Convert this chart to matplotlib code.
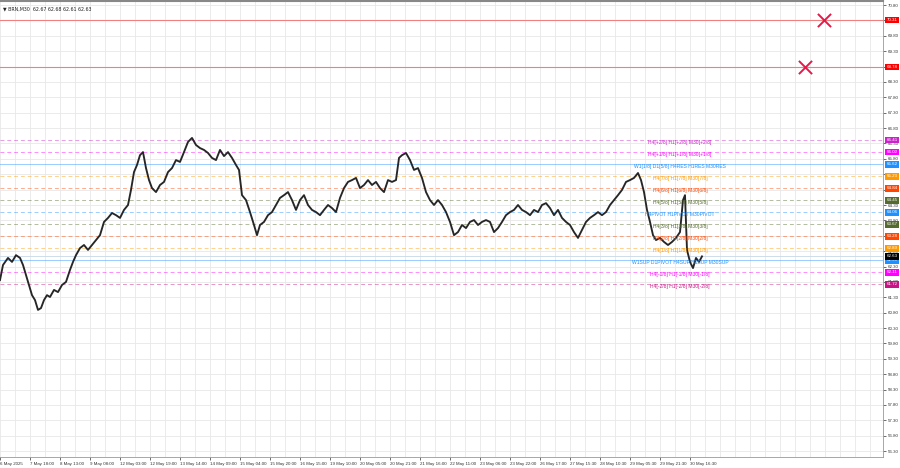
import matplotlib
matplotlib.use('Agg')
import matplotlib.pyplot as plt
from matplotlib.transforms import blended_transform_factory

TITLE = '\u25bc BRN,M30  62.67 62.68 62.61 62.63'

# bar position (chart x) and price
BAR_X = [0, 3, 8, 12, 16, 20, 23, 26, 29, 32, 35, 38, 41, 44, 47, 50, 54, 58,
         62, 66, 70, 73, 76, 80, 84, 88, 92, 96, 100, 104, 108, 112, 116, 120,
         124, 128, 131, 134, 137, 140, 143, 146, 149, 152, 156, 160, 164, 168,
         172, 176, 180, 184, 188, 192, 196, 200, 204, 208, 212, 216, 220, 224,
         228, 232, 236, 239, 242, 246, 250, 254, 257, 260, 264, 268, 272, 276,
         280, 284, 288, 292, 296, 300, 304, 308, 312, 316, 320, 324, 328, 332,
         336, 340, 344, 348, 352, 356, 360, 364, 368, 372, 376, 380, 384, 388,
         392, 396, 399, 402, 406, 410, 414, 418, 422, 426, 430, 434, 438, 442,
         446, 450, 454, 458, 462, 466, 470, 474, 478, 482, 486, 490, 494, 498,
         502, 506, 510, 514, 518, 522, 526, 530, 534, 538, 542, 546, 550, 554,
         558, 562, 566, 570, 574, 578, 582, 586, 590, 594, 598, 602, 606, 610,
         614, 618, 622, 626, 630, 634, 638, 641, 644, 647, 650, 653, 656, 660,
         664, 668, 672, 676, 680, 683, 685, 687, 690, 693, 696, 699, 702]
PRICE = [61.86, 62.35, 62.58, 62.45, 62.67, 62.58, 62.35, 62.02, 61.70, 61.37,
         61.21, 60.89, 60.95, 61.21, 61.37, 61.31, 61.54, 61.47, 61.70, 61.80,
         62.19, 62.45, 62.67, 62.90, 63.00, 62.84, 63.00, 63.16, 63.32, 63.75,
         63.88, 64.04, 63.97, 63.88, 64.14, 64.30, 64.79, 65.37, 65.60, 65.92,
         66.02, 65.50, 65.11, 64.85, 64.72, 64.95, 65.05, 65.37, 65.50, 65.76,
         65.70, 66.02, 66.35, 66.48, 66.25, 66.15, 66.09, 65.99, 65.83, 65.76,
         66.09, 65.89, 66.02, 65.83, 65.60, 65.44, 64.62, 64.46, 64.07, 63.65,
         63.32, 63.65, 63.75, 63.97, 64.07, 64.30, 64.53, 64.62, 64.72, 64.46,
         64.14, 64.46, 64.62, 64.30, 64.14, 64.07, 63.97, 64.14, 64.30, 64.20,
         64.07, 64.53, 64.85, 65.05, 65.11, 65.18, 64.85, 64.95, 65.11, 64.95,
         65.05, 64.85, 64.72, 65.11, 65.05, 65.11, 65.83, 65.92, 65.99, 65.76,
         65.44, 65.50, 65.18, 64.72, 64.46, 64.30, 64.46, 64.30, 64.07, 63.75,
         63.32, 63.42, 63.65, 63.55, 63.75, 63.81, 63.65, 63.75, 63.81, 63.75,
         63.42, 63.55, 63.75, 63.97, 64.07, 64.14, 64.30, 64.14, 64.07, 63.97,
         64.14, 64.07, 64.30, 64.36, 64.20, 63.97, 64.14, 63.88, 63.75, 63.65,
         63.42, 63.23, 63.49, 63.75, 63.88, 63.97, 64.07, 63.97, 64.07, 64.30,
         64.46, 64.62, 64.79, 65.05, 65.11, 65.18, 65.34, 65.11, 64.72, 64.14,
         63.75, 63.32, 63.16, 63.23, 63.10, 63.00, 63.10, 63.23, 63.42, 64.46,
         64.62, 62.84, 62.45, 62.25, 62.58, 62.45, 62.63]

TIME_LABELS = ['6 May 2025', '7 May 18:00', '8 May 13:00', '9 May 08:00',
               '12 May 03:00', '12 May 19:00', '13 May 14:00', '14 May 09:00',
               '15 May 04:00', '15 May 20:00', '16 May 15:00', '19 May 10:00',
               '20 May 05:00', '20 May 21:00', '21 May 16:00', '22 May 11:00',
               '23 May 06:00', '23 May 22:00', '26 May 17:00', '27 May 15:30',
               '28 May 10:30', '29 May 05:30', '29 May 21:30', '30 May 16:30']
TIME_TICKS = list(range(0, 30 * len(TIME_LABELS), 30))

PRICE_TICKS = [56.30 + 0.5 * i for i in range(30)]

LEVEL_PRICES = [66.41, 66.02, 65.62, 65.23, 64.84, 64.45, 64.06, 63.67, 63.28,
                62.89, 62.50, 62.11, 61.72]
LEVEL_NAMES = ['H4[+2/8] H1[+2/8] M30[+2/8]', 'H4[+1/8] H1[+1/8] M30[+1/8]',
               'W1[1/8] D1[5/8] H4RES H1RES M30RES', 'H4[7/8] H1[7/8] M30[7/8]',
               'H4[6/8] H1[6/8] M30[6/8]', 'H4[5/8] H1[5/8] M30[5/8]',
               'H4PIVOT H1PIVOT M30PIVOT', 'H4[3/8] H1[3/8] M30[3/8]',
               'H4[2/8] H1[2/8] M30[2/8]', 'H4[1/8] H1[1/8] M30[1/8]',
               'W1SUP D1PIVOT H4SUP H1SUP M30SUP', 'H4[-1/8] H1[-1/8] M30[-1/8]',
               'H4[-2/8] H1[-2/8] M30[-2/8]']
LEVEL_COLORS = ['#cc22cc', '#ff00ff', '#1e90ff', '#ff9900', '#ff4500',
                '#556b2f', '#1e90ff', '#556b2f', '#ff4500', '#ff9900',
                '#1e90ff', '#ff00ff', '#c71585']
LEVEL_SOLID = [False, False, True, False, False, False, False, False, False,
               False, True, False, False]

ORDER_PRICES = [70.31, 68.78]
ORDER_BARS = [824, 805]
LAST_PRICE = 62.63

FONT = ['Liberation Sans', 'DejaVu Sans']


def price_box(ax, tr, p, color, z=5):
    ax.text(1.004, p, f'{p:.2f}', transform=tr, fontsize=3.2, family=FONT,
            color='white', va='center', ha='left', zorder=z,
            bbox=dict(boxstyle='square,pad=0.3', fc=color, ec='none'),
            clip_on=False)


def main():
    fig = plt.figure(figsize=(9, 4.68), dpi=100)
    ax = fig.add_axes([0, 11 / 468, 883 / 900, 456 / 468])
    ax.set_xlim(0, 883)
    ax.set_ylim(56.11, 70.93)

    # grid
    for gx in range(0, 883, 15):
        ax.axvline(gx, color='#e8e8e8', lw=0.6, zorder=0)
    for gy in PRICE_TICKS:
        ax.axhline(gy, color='#e8e8e8', lw=0.6, zorder=0)

    tr = blended_transform_factory(ax.transAxes, ax.transData)

    # order lines + crosses
    for p in ORDER_PRICES:
        ax.axhline(p, color='#f08080', lw=0.8, zorder=1)
        price_box(ax, tr, p, '#ff0000')
    ax.scatter(ORDER_BARS, ORDER_PRICES, marker='x', s=90, lw=1.4,
               color='#e8194a', zorder=4)

    # murrey levels
    for p, name, c, solid in zip(LEVEL_PRICES, LEVEL_NAMES, LEVEL_COLORS,
                                 LEVEL_SOLID):
        ax.axhline(p, color=c, lw=0.7, alpha=0.45,
                   ls='-' if solid else (0, (4, 3)), zorder=1)
        ax.annotate(name, (680, p), xytext=(0, -1.4),
                    textcoords='offset points', fontsize=3.6, color=c,
                    family=FONT, ha='center', va='center', zorder=3)
        price_box(ax, tr, p, c)

    ax.axhline(LAST_PRICE, color='#c8d8e8', lw=0.6, zorder=1)
    price_box(ax, tr, LAST_PRICE, 'black', z=6)

    # price
    ax.plot(BAR_X, PRICE, color='#262626', lw=1.35, zorder=2)

    # axes styling
    ax.yaxis.tick_right()
    ax.set_yticks(PRICE_TICKS)
    ax.set_yticklabels([f'{v:.2f}' for v in PRICE_TICKS], family=FONT)
    ax.set_xticks(TIME_TICKS)
    ax.set_xticklabels(TIME_LABELS, ha='left', family=FONT)
    ax.tick_params(axis='both', labelsize=3.2, colors='#333333', length=2,
                   width=0.5, pad=1.5)
    ax.spines['left'].set_visible(False)
    ax.spines['top'].set_color('#888888')
    ax.spines['top'].set_linewidth(1.5)
    ax.spines['right'].set_color('#999999')
    ax.spines['right'].set_linewidth(0.6)
    ax.spines['bottom'].set_color('#999999')
    ax.spines['bottom'].set_linewidth(0.6)

    ax.text(0.003, 0.988, TITLE, transform=ax.transAxes, fontsize=3.4,
            color='#222222', va='top', ha='left', family=['DejaVu Sans'])

    fig.savefig('out.png', dpi=100, facecolor='white')
    plt.close(fig)


if __name__ == '__main__':
    main()
